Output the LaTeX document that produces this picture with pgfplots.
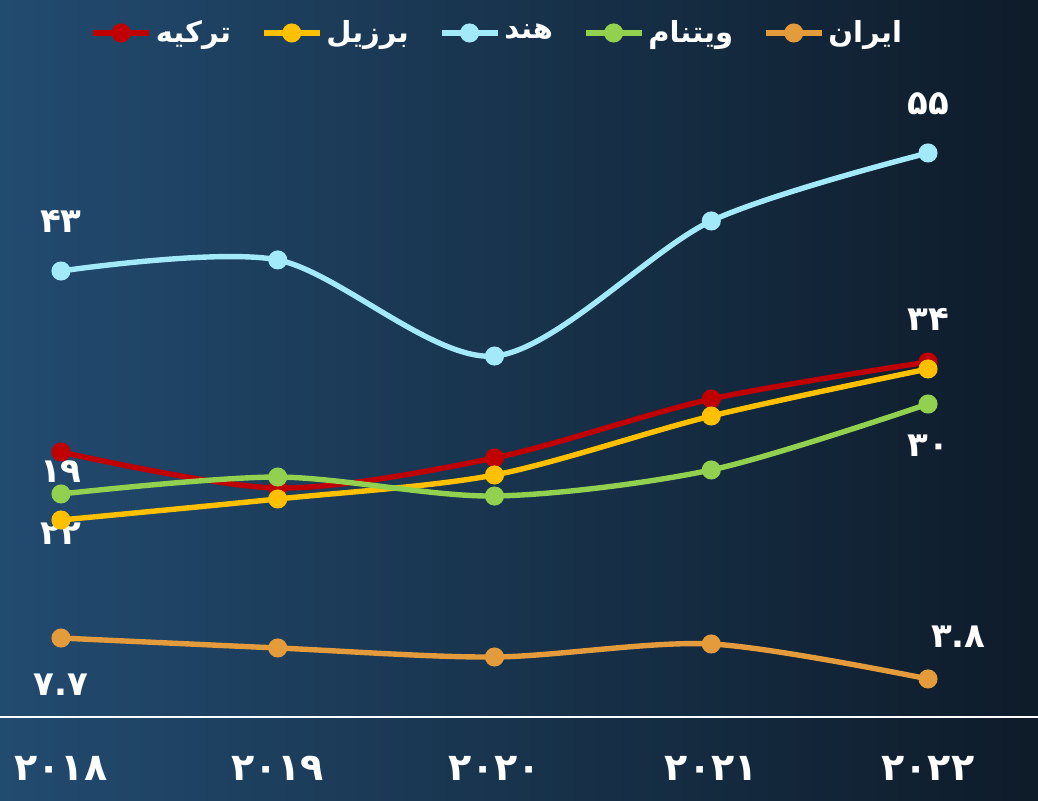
\documentclass[border=0pt]{standalone}
\usepackage{fontspec}
\usepackage{pgfplots}
\pgfplotsset{compat=1.18}
\TeXXeTstate=1
\newfontfamily\fa[Script=Arabic]{DejaVu Sans}
\definecolor{cTur}{HTML}{C00000}
\definecolor{cBra}{HTML}{FFC000}
\definecolor{cInd}{HTML}{A2E9FA}
\definecolor{cVie}{HTML}{92D050}
\definecolor{cIra}{HTML}{E49B3B}
\definecolor{bgL}{HTML}{224B70}
\definecolor{bgR}{HTML}{0E1B29}
\newcommand{\lblfont}{\fa\bfseries\fontsize{17}{17}\selectfont}
\begin{document}
\begin{tikzpicture}[x=0.5pt,y=0.5pt]
\shade[left color=bgL, right color=bgR] (0,0) rectangle (1038,801);
\useasboundingbox (0,0) rectangle (1038,801);
\begin{axis}[
  at={(0pt,42pt)}, anchor=south west,
  scale only axis, width=519pt, height=358.5pt,
  xmin=2017.7186, xmax=2022.5075, ymin=0, ymax=69.92,
  clip=false,
  axis x line=bottom, axis y line=none,
  x axis line style={white, line width=1.2pt, -},
  xtick={2018,2019,2020,2021,2022},
  xticklabels={۲۰۱۸,۲۰۱۹,۲۰۲۰,۲۰۲۱,۲۰۲۲},
  major tick length=0pt, ytick=\empty,
  xticklabel style={text=white, font=\fa\bfseries\fontsize{19}{19}\selectfont, yshift=-16pt},
  every axis plot/.append style={line width=2.7pt, smooth, tension=0.5, mark=*, mark size=3.4pt},
  legend columns=5,
  legend style={at={(0.48,0.954)}, anchor=center, draw=none, fill=none, text=white,
    font=\fa\bfseries\fontsize{14.5}{14.5}\selectfont,
    /tikz/every even column/.append style={column sep=13pt}},
  legend image code/.code={\draw[mark repeat=2,mark phase=2,#1] plot coordinates {(0pt,0pt) (14pt,0pt) (28pt,0pt)};},
]
\addplot[color=cTur] coordinates {(2018,25.84) (2019,22.33) (2020,25.26) (2021,31.01) (2022,34.62)};
\addlegendentry{\beginR ترکیه\endR}
\addplot[color=cBra] coordinates {(2018,19.21) (2019,21.26) (2020,23.60) (2021,29.35) (2022,33.94)};
\addlegendentry{\beginR برزیل\endR}
\addplot[color=cInd] coordinates {(2018,43.49) (2019,44.57) (2020,35.20) (2021,48.37) (2022,55.00)};
\addlegendentry{\beginR هند\endR}
\addplot[color=cVie] coordinates {(2018,21.75) (2019,23.40) (2020,21.55) (2021,24.09) (2022,30.52)};
\addlegendentry{\beginR ویتنام\endR}
\addplot[color=cIra] coordinates {(2018,7.70) (2019,6.73) (2020,5.85) (2021,7.12) (2022,3.71)};
\addlegendentry{\beginR ایران\endR}
\node[text=white, font=\lblfont] at (axis cs:2018,48.3) {۴۳};
\node[text=white, font=\lblfont] at (axis cs:2022,59.8) {۵۵};
\node[text=white, font=\lblfont] at (axis cs:2022,38.8) {۳۴};
\node[text=white, font=\lblfont] at (axis cs:2022,26.5) {۳۰};
\node[text=white, font=\lblfont] at (axis cs:2018,23.9) {۱۹};
\node[text=white, font=\lblfont] at (axis cs:2018,17.9) {۲۲};
\node[text=white, font=\lblfont] at (axis cs:2018,3.1) {۷.۷};
\node[text=white, font=\lblfont] at (axis cs:2022.14,7.8) {۳.۸};
\end{axis}
\end{tikzpicture}
\end{document}
